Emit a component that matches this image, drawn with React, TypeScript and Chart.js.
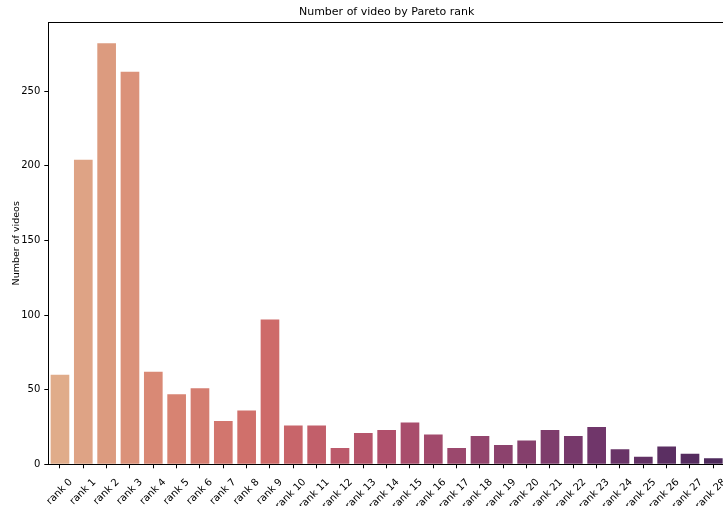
import { useEffect, useRef } from "react";
import { Chart, registerables } from "chart.js";

Chart.register(...registerables);

const categories = [
  "rank 0", "rank 1", "rank 2", "rank 3", "rank 4", "rank 5", "rank 6", "rank 7",
  "rank 8", "rank 9", "rank 10", "rank 11", "rank 12", "rank 13", "rank 14", "rank 15",
  "rank 16", "rank 17", "rank 18", "rank 19", "rank 20", "rank 21", "rank 22", "rank 23",
  "rank 24", "rank 25", "rank 26", "rank 27", "rank 28",
];

const videoCounts = [
  60, 204, 282, 263, 62, 47, 51, 29, 36, 97, 26, 26, 11, 21, 23, 28,
  20, 11, 19, 13, 16, 23, 19, 25, 10, 5, 12, 7, 4,
];

const yTicks = [0, 50, 100, 150, 200, 250];
const yMax = 296.1;

const chartTitle = "Number of video by Pareto rank";
const yTitle = "Number of videos";

// palette anchors (position in 0..1, colour)
const paletteAnchors: [number, number[]][] = [
  [0, [224, 172, 138]],
  [0.14, [217, 138, 117]],
  [0.32, [206, 106, 105]],
  [0.5, [176, 80, 108]],
  [0.68, [140, 66, 109]],
  [0.82, [112, 54, 106]],
  [1, [78, 42, 92]],
];

function paletteAt(t: number): string {
  for (let i = 0; i < paletteAnchors.length - 1; i++) {
    const [a, ca] = paletteAnchors[i];
    const [b, cb] = paletteAnchors[i + 1];
    if (t >= a && t <= b) {
      const f = (t - a) / (b - a);
      const c = ca.map((v, k) => Math.round(v + (cb[k] - v) * f));
      return `rgb(${c[0]},${c[1]},${c[2]})`;
    }
  }
  const c = paletteAnchors[paletteAnchors.length - 1][1];
  return `rgb(${c[0]},${c[1]},${c[2]})`;
}

const FONT = "'DejaVu Sans', sans-serif";

const boxPlugin = {
  id: "boxPlugin",
  afterDraw(chart: any) {
    const { ctx, chartArea } = chart;
    ctx.save();
    ctx.strokeStyle = "#000";
    ctx.lineWidth = 1;
    ctx.strokeRect(
      Math.round(chartArea.left) + 0.5,
      Math.round(chartArea.top) + 0.5,
      Math.round(chartArea.right) - Math.round(chartArea.left),
      Math.round(chartArea.bottom) - Math.round(chartArea.top)
    );
    // title centred over the plot area (matplotlib style)
    ctx.fillStyle = "#000";
    ctx.font = `11px ${FONT}`;
    ctx.textAlign = "center";
    ctx.textBaseline = "middle";
    ctx.fillText(chartTitle, (chartArea.left + chartArea.right) / 2, 12.5);
    ctx.restore();
  },
};

export default function App() {
  const canvasRef = useRef<HTMLCanvasElement | null>(null);

  useEffect(() => {
    if (!canvasRef.current) return;
    const n = categories.length;
    const colors = categories.map((_, i) => paletteAt(n > 1 ? i / (n - 1) : 0));
    const chart = new Chart(canvasRef.current, {
      type: "bar",
      data: {
        labels: categories,
        datasets: [
          {
            data: videoCounts,
            backgroundColor: colors,
            borderWidth: 0,
            categoryPercentage: 1,
            barPercentage: 0.8,
          },
        ],
      },
      options: {
        animation: false,
        responsive: false,
        devicePixelRatio: 1,
        layout: { padding: { left: 0, right: 5, top: 22.3, bottom: 0 } },
        plugins: {
          legend: { display: false },
          tooltip: { enabled: false },
          title: { display: false },
        },
        scales: {
          x: {
            type: "category",
            offset: true,
            grid: {
              display: true,
              drawOnChartArea: false,
              drawTicks: true,
              tickLength: 4,
              color: "#000",
              offset: false,
            },
            border: { display: false },
            ticks: {
              color: "#000",
              font: { family: FONT, size: 10 },
              minRotation: 45,
              maxRotation: 45,
              autoSkip: false,
              labelOffset: 11,
              padding: 8,
            },
            afterFit(scale: any) {
              scale.height = 41.7;
              scale.paddingLeft = 0;
              scale.paddingRight = 0;
            },
          },
          y: {
            min: 0,
            max: yMax,
            grid: {
              display: true,
              drawOnChartArea: false,
              drawTicks: true,
              tickLength: 4,
              color: "#000",
            },
            border: { display: false },
            ticks: {
              color: "#000",
              font: { family: FONT, size: 10 },
              padding: 4,
            },
            afterBuildTicks(scale: any) {
              scale.ticks = yTicks.map((v) => ({ value: v }));
            },
            title: {
              display: true,
              text: yTitle,
              color: "#000",
              font: { family: FONT, size: 9.5 },
              padding: { top: 11, bottom: 0 },
            },
            afterFit(scale: any) {
              scale.width = 48.3;
              scale.paddingTop = 0;
              scale.paddingBottom = 0;
            },
          },
        },
      },
      plugins: [boxPlugin],
    });
    return () => chart.destroy();
  }, []);

  return (
    <div
      style={{
        position: "absolute",
        left: 0,
        top: 0,
        width: 723,
        height: 506,
        overflow: "hidden",
        background: "#fff",
      }}
    >
      <canvas
        ref={canvasRef}
        width={730}
        height={506}
        style={{ display: "block", width: 730, height: 506 }}
      />
    </div>
  );
}
